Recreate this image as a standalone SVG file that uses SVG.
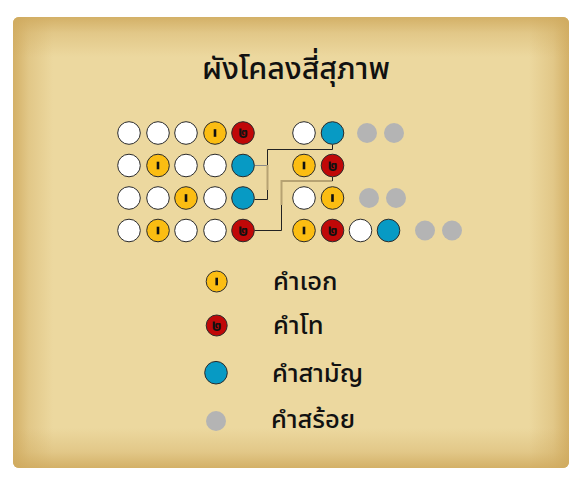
<svg xmlns="http://www.w3.org/2000/svg" width="580" height="486" viewBox="0 0 580 486">
<defs>
<linearGradient id="gl" x1="0" y1="0" x2="1" y2="0"><stop offset="0" stop-color="#cfa95d" stop-opacity="0.85"/><stop offset="0.4" stop-color="#cfa95d" stop-opacity="0.35"/><stop offset="1" stop-color="#cfa95d" stop-opacity="0"/></linearGradient>
<linearGradient id="gr" x1="1" y1="0" x2="0" y2="0"><stop offset="0" stop-color="#cfa95d" stop-opacity="0.85"/><stop offset="0.4" stop-color="#cfa95d" stop-opacity="0.35"/><stop offset="1" stop-color="#cfa95d" stop-opacity="0"/></linearGradient>
<linearGradient id="gt" x1="0" y1="0" x2="0" y2="1"><stop offset="0" stop-color="#cfa95d" stop-opacity="0.85"/><stop offset="0.4" stop-color="#cfa95d" stop-opacity="0.35"/><stop offset="1" stop-color="#cfa95d" stop-opacity="0"/></linearGradient>
<linearGradient id="gb" x1="0" y1="1" x2="0" y2="0"><stop offset="0" stop-color="#cfa95d" stop-opacity="0.85"/><stop offset="0.4" stop-color="#cfa95d" stop-opacity="0.35"/><stop offset="1" stop-color="#cfa95d" stop-opacity="0"/></linearGradient>
<clipPath id="clip"><rect x="13" y="17" width="556" height="451" rx="6"/></clipPath>
<g id="ek"><rect x="-1.3" y="-3.8" width="2.6" height="7.6" fill="#111"/></g>
</defs>
<style>
.t{font-family:"Noto Sans Thai","Noto Sans","Liberation Sans",sans-serif;fill:#111;font-weight:500;}
.w{fill:#ffffff;stroke:#2b2b2b;stroke-width:1;}
.y{fill:#fbbd12;stroke:#2b2b2b;stroke-width:1;}
.r{fill:#c00808;stroke:#2b2b2b;stroke-width:1;}
.b{fill:#079ac4;stroke:#2b2b2b;stroke-width:1;}
.g{fill:#b4b4b4;}
.tho{font-family:"Noto Sans Thai","Noto Sans",sans-serif;font-size:15px;font-weight:bold;fill:#111;text-anchor:middle;}
.dk{fill:none;stroke:#222;stroke-width:1;}
.tn{fill:none;stroke:#b6a272;stroke-width:2;}
.gy{fill:none;stroke:#888;stroke-width:1;}
</style>
<g id="background">
<rect x="13" y="17" width="556" height="451" rx="6" fill="#ecd89f"/>
<g clip-path="url(#clip)">
<rect x="13" y="17" width="40" height="451" fill="url(#gl)"/>
<rect x="529" y="17" width="40" height="451" fill="url(#gr)"/>
<rect x="13" y="17" width="556" height="40" fill="url(#gt)"/>
<rect x="13" y="428" width="556" height="40" fill="url(#gb)"/>
</g>
</g>
<text id="title" class="t" x="296" y="79" font-size="30.5" text-anchor="middle">ผังโคลงสี่สุภาพ</text>
<g id="connectors">
<path class="gy" d="M254.5 165.5H267"/>
<path class="dk" d="M254.5 199.5H267.5V190"/>
<path class="tn" d="M267.5 190V165"/>
<path class="dk" d="M267.5 165V149.5H332.5V144.5"/>
<path class="dk" d="M254.5 230.5H281.5V205"/>
<path class="tn" d="M281.5 205V181H332.5"/>
<path class="dk" d="M332.5 181V177"/>
</g>
<g id="row1">
<circle class="w" cx="129" cy="133" r="11.3"/>
<circle class="w" cx="158" cy="133" r="11.3"/>
<circle class="w" cx="186" cy="133" r="11.3"/>
<g><circle class="y" cx="215" cy="133" r="11.3"/><use href="#ek" x="215" y="133"/></g>
<g><circle class="r" cx="243" cy="133" r="11.3"/><text class="tho" x="243" y="138">๒</text></g>
<circle class="w" cx="304" cy="133" r="11.3"/>
<circle class="b" cx="332.5" cy="133" r="11.3"/>
<circle class="g" cx="367" cy="133" r="10"/>
<circle class="g" cx="394" cy="133" r="10"/>
</g>
<g id="row2">
<circle class="w" cx="129" cy="165.5" r="11.3"/>
<g><circle class="y" cx="158" cy="165.5" r="11.3"/><use href="#ek" x="158" y="165.5"/></g>
<circle class="w" cx="186" cy="165.5" r="11.3"/>
<circle class="w" cx="215" cy="165.5" r="11.3"/>
<circle class="b" cx="243" cy="165.5" r="11.3"/>
<g><circle class="y" cx="304" cy="165.5" r="11.3"/><use href="#ek" x="304" y="165.5"/></g>
<g><circle class="r" cx="332.5" cy="165.5" r="11.3"/><text class="tho" x="332.5" y="170.5">๒</text></g>
</g>
<g id="row3">
<circle class="w" cx="129" cy="198" r="11.3"/>
<circle class="w" cx="158" cy="198" r="11.3"/>
<g><circle class="y" cx="186" cy="198" r="11.3"/><use href="#ek" x="186" y="198"/></g>
<circle class="w" cx="215" cy="198" r="11.3"/>
<circle class="b" cx="243" cy="198" r="11.3"/>
<circle class="w" cx="304" cy="198" r="11.3"/>
<g><circle class="y" cx="332.5" cy="198" r="11.3"/><use href="#ek" x="332.5" y="198"/></g>
<circle class="g" cx="369" cy="198" r="10"/>
<circle class="g" cx="396" cy="198" r="10"/>
</g>
<g id="row4">
<circle class="w" cx="129" cy="230.5" r="11.3"/>
<g><circle class="y" cx="158" cy="230.5" r="11.3"/><use href="#ek" x="158" y="230.5"/></g>
<circle class="w" cx="186" cy="230.5" r="11.3"/>
<circle class="w" cx="215" cy="230.5" r="11.3"/>
<g><circle class="r" cx="243" cy="230.5" r="11.3"/><text class="tho" x="243" y="235.5">๒</text></g>
<g><circle class="y" cx="304" cy="230.5" r="11.3"/><use href="#ek" x="304" y="230.5"/></g>
<g><circle class="r" cx="332.5" cy="230.5" r="11.3"/><text class="tho" x="332.5" y="235.5">๒</text></g>
<circle class="w" cx="360.5" cy="230.5" r="11.3"/>
<circle class="b" cx="388.5" cy="230.5" r="11.3"/>
<circle class="g" cx="425" cy="230.5" r="10"/>
<circle class="g" cx="452" cy="230.5" r="10"/>
</g>
<g id="legend-ek"><circle class="y" cx="216.7" cy="281.5" r="10.5"/><use href="#ek" x="216.7" y="281.5"/><text class="t" x="273" y="290" font-size="25.5">คำเอก</text></g>
<g id="legend-tho"><circle class="r" cx="216.7" cy="325.5" r="10.5"/><text class="tho" x="216.7" y="330.5">๒</text><text class="t" x="273" y="334" font-size="25.5">คำโท</text></g>
<g id="legend-saman"><circle class="b" cx="216" cy="372.7" r="11.3"/><text class="t" x="272" y="381.5" font-size="25.5">คำสามัญ</text></g>
<g id="legend-soi"><circle class="g" cx="216" cy="421" r="10"/><text class="t" x="271" y="428" font-size="25.5">คำสร้อย</text></g>
</svg>
